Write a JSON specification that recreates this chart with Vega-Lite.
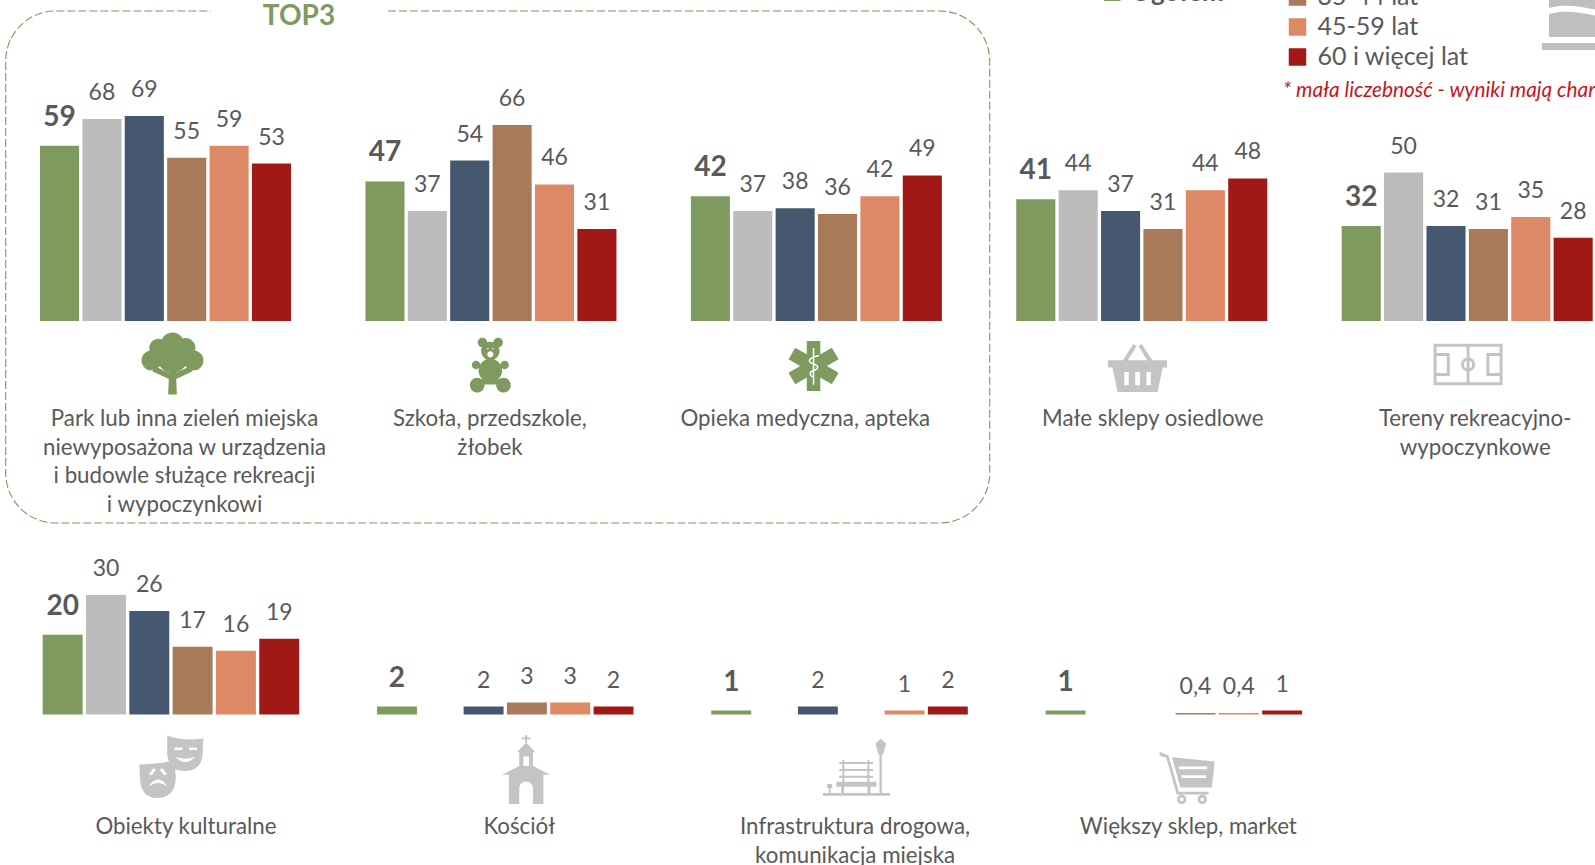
{
"$schema":"https://vega.github.io/schema/vega-lite/v6.json",
"width":1595,"height":865,"padding":0,"autosize":{"type":"none"},"background":"white",
"config":{"view":{"stroke":null},
"locale":{"number":{"decimal":",","thousands":" ","grouping":[3],"currency":["","zł"]}},
"text":{"font":"Lato","fill":"#595959","baseline":"alphabetic","align":"center"}},
"datasets":{
"r1":[
{"category":"Park","group":"Ogółem","value":59},{"category":"Park","group":"18-24 lat","value":68},{"category":"Park","group":"25-34 lat","value":69},{"category":"Park","group":"35-44 lat","value":55},{"category":"Park","group":"45-59 lat","value":59},{"category":"Park","group":"60 i więcej lat","value":53},
{"category":"Szkoła","group":"Ogółem","value":47},{"category":"Szkoła","group":"18-24 lat","value":37},{"category":"Szkoła","group":"25-34 lat","value":54},{"category":"Szkoła","group":"35-44 lat","value":66},{"category":"Szkoła","group":"45-59 lat","value":46},{"category":"Szkoła","group":"60 i więcej lat","value":31},
{"category":"Opieka","group":"Ogółem","value":42},{"category":"Opieka","group":"18-24 lat","value":37},{"category":"Opieka","group":"25-34 lat","value":38},{"category":"Opieka","group":"35-44 lat","value":36},{"category":"Opieka","group":"45-59 lat","value":42},{"category":"Opieka","group":"60 i więcej lat","value":49},
{"category":"Małe sklepy","group":"Ogółem","value":41},{"category":"Małe sklepy","group":"18-24 lat","value":44},{"category":"Małe sklepy","group":"25-34 lat","value":37},{"category":"Małe sklepy","group":"35-44 lat","value":31},{"category":"Małe sklepy","group":"45-59 lat","value":44},{"category":"Małe sklepy","group":"60 i więcej lat","value":48},
{"category":"Tereny","group":"Ogółem","value":32},{"category":"Tereny","group":"18-24 lat","value":50},{"category":"Tereny","group":"25-34 lat","value":32},{"category":"Tereny","group":"35-44 lat","value":31},{"category":"Tereny","group":"45-59 lat","value":35},{"category":"Tereny","group":"60 i więcej lat","value":28}],
"r2":[
{"category":"Obiekty","group":"Ogółem","value":20},{"category":"Obiekty","group":"18-24 lat","value":30},{"category":"Obiekty","group":"25-34 lat","value":26},{"category":"Obiekty","group":"35-44 lat","value":17},{"category":"Obiekty","group":"45-59 lat","value":16},{"category":"Obiekty","group":"60 i więcej lat","value":19},
{"category":"Kościół","group":"Ogółem","value":2},{"category":"Kościół","group":"25-34 lat","value":2},{"category":"Kościół","group":"35-44 lat","value":3},{"category":"Kościół","group":"45-59 lat","value":3},{"category":"Kościół","group":"60 i więcej lat","value":2},
{"category":"Infrastruktura","group":"Ogółem","value":1},{"category":"Infrastruktura","group":"25-34 lat","value":2},{"category":"Infrastruktura","group":"45-59 lat","value":1},{"category":"Infrastruktura","group":"60 i więcej lat","value":2},
{"category":"Większy sklep","group":"Ogółem","value":1},{"category":"Większy sklep","group":"35-44 lat","value":0.4},{"category":"Większy sklep","group":"45-59 lat","value":0.4},{"category":"Większy sklep","group":"60 i więcej lat","value":1}],
"c1":[
{"category":"Park","label":"Park lub inna zieleń miejska\nniewyposażona w urządzenia\ni budowle służące rekreacji\ni wypoczynkowi"},
{"category":"Szkoła","label":"Szkoła, przedszkole,\nżłobek"},
{"category":"Opieka","label":"Opieka medyczna, apteka"},
{"category":"Małe sklepy","label":"Małe sklepy osiedlowe"},
{"category":"Tereny","label":"Tereny rekreacyjno-\nwypoczynkowe"}],
"c2":[
{"category":"Obiekty","label":"Obiekty kulturalne"},
{"category":"Kościół","label":"Kościół"},
{"category":"Infrastruktura","label":"Infrastruktura drogowa,\nkomunikacja miejska"},
{"category":"Większy sklep","label":"Większy sklep, market"}],
"leg":[{"group":"Ogółem","column":"ogółem"},{"group":"35-44 lat","column":"wiek"},{"group":"45-59 lat","column":"wiek"},{"group":"60 i więcej lat","column":"wiek"}]
},
"layer":[
{"encoding":{"x":{"field":"category","type":"nominal","axis":null,"scale":{"type":"band","domain":["Park","Szkoła","Opieka","Małe sklepy","Tereny"],"range":[40,1592.7],"paddingInner":0.2286,"paddingOuter":0}}},
"layer":[
{"data":{"name":"r1"},"mark":{"type":"bar"},"encoding":{"y":{"field":"value","type":"quantitative","axis":null,"scale":{"domain":[0,100],"range":[321,24],"nice":false,"zero":false}},"xOffset":{"field":"group","type":"nominal","scale":{"domain":["Ogółem","18-24 lat","25-34 lat","35-44 lat","45-59 lat","60 i więcej lat"],"paddingInner":0.078,"paddingOuter":0}},"color":{"field":"group","type":"nominal","legend":null,"scale":{"domain":["Ogółem","18-24 lat","25-34 lat","35-44 lat","45-59 lat","60 i więcej lat"],"range":["#7f9a5e","#bcbcbc","#46586f","#a87a5a","#dd8966","#a01916"]}}}},
{"data":{"name":"r1"},"transform":[{"filter":"datum.group!=='Ogółem'"}],"mark":{"type":"text","fontSize":23,"dy":-19},"encoding":{"y":{"field":"value","type":"quantitative","axis":null},"xOffset":{"field":"group","type":"nominal"},"text":{"field":"value","type":"quantitative","format":".1~f"}}},
{"data":{"name":"r1"},"transform":[{"filter":"datum.group==='Ogółem'"}],"mark":{"type":"text","fontSize":28,"fontWeight":"bold","dy":-20},"encoding":{"y":{"field":"value","type":"quantitative","axis":null},"xOffset":{"field":"group","type":"nominal"},"text":{"field":"value","type":"quantitative","format":".1~f"}}},
{"data":{"name":"c1"},"transform":[{"filter":"datum.category==='Park'"}],"mark":{"type":"text","fontSize":22.3,"lineBreak":"\n","lineHeight":28.7,"dx":19,"dy":105},"encoding":{"y":{"datum":0,"type":"quantitative","axis":null},"text":{"field":"label"}}},
{"data":{"name":"c1"},"transform":[{"filter":"datum.category==='Szkoła'"}],"mark":{"type":"text","fontSize":22.3,"lineBreak":"\n","lineHeight":28.7,"dx":-1,"dy":105},"encoding":{"y":{"datum":0,"type":"quantitative","axis":null},"text":{"field":"label"}}},
{"data":{"name":"c1"},"transform":[{"filter":"datum.category==='Opieka'"}],"mark":{"type":"text","fontSize":22.3,"lineBreak":"\n","lineHeight":28.7,"dx":-11,"dy":105},"encoding":{"y":{"datum":0,"type":"quantitative","axis":null},"text":{"field":"label"}}},
{"data":{"name":"c1"},"transform":[{"filter":"datum.category==='Małe sklepy'"}],"mark":{"type":"text","fontSize":22.3,"lineBreak":"\n","lineHeight":28.7,"dx":11,"dy":105},"encoding":{"y":{"datum":0,"type":"quantitative","axis":null},"text":{"field":"label"}}},
{"data":{"name":"c1"},"transform":[{"filter":"datum.category==='Tereny'"}],"mark":{"type":"text","fontSize":22.3,"lineBreak":"\n","lineHeight":28.7,"dx":8,"dy":105},"encoding":{"y":{"datum":0,"type":"quantitative","axis":null},"text":{"field":"label"}}},
{"data":{"name":"c1"},"transform":[{"filter":"datum.category==='Park'"}],"mark":{"type":"point","filled":true,"opacity":1,"fill":"#7f9a5e","stroke":null,"size":3844,"xOffset":7,"shape":"M-.38 -.62 A.38 .38 0 1 1 .38 -.62 A.38 .38 0 1 1 -.38 -.62 Z M-.75 -.5 A.3 .3 0 1 1 -.15 -.5 A.3 .3 0 1 1 -.75 -.5 Z M.1 -.5 A.32 .32 0 1 1 .74 -.5 A.32 .32 0 1 1 .1 -.5 Z M-1 -.1 A.32 .32 0 1 1 -.36 -.1 A.32 .32 0 1 1 -1 -.1 Z M.36 -.1 A.32 .32 0 1 1 1 -.1 A.32 .32 0 1 1 .36 -.1 Z M-.5 -.2 A.5 .5 0 1 1 .5 -.2 A.5 .5 0 1 1 -.5 -.2 Z M-.14 1 L-.12 .5 L-.65 .25 L-.55 .1 L-.12 .3 L-.2 0 L.2 0 L.12 .3 L.55 .1 L.65 .25 L.12 .5 L.14 1 Z"},"encoding":{"y":{"datum":-14.31,"type":"quantitative","axis":null}}},
{"data":{"name":"c1"},"transform":[{"filter":"datum.category==='Szkoła'"}],"mark":{"type":"point","filled":true,"opacity":1,"fill":"#7f9a5e","stroke":null,"size":3136,"xOffset":-0.6,"shape":"M-.33 -.5 A.33 .33 0 1 1 .33 -.5 A.33 .33 0 1 1 -.33 -.5 Z M-.45 -.8 A.17 .17 0 1 1 -.11 -.8 A.17 .17 0 1 1 -.45 -.8 Z M.11 -.8 A.17 .17 0 1 1 .45 -.8 A.17 .17 0 1 1 .11 -.8 Z M-.42 .2 A.42 .42 0 1 1 .42 .2 A.42 .42 0 1 1 -.42 .2 Z M-.66 0 A.15 .15 0 1 1 -.36 0 A.15 .15 0 1 1 -.66 0 Z M.36 0 A.15 .15 0 1 1 .66 0 A.15 .15 0 1 1 .36 0 Z M-.73 .72 A.26 .26 0 1 1 -.21 .72 A.26 .26 0 1 1 -.73 .72 Z M.21 .72 A.26 .26 0 1 1 .73 .72 A.26 .26 0 1 1 .21 .72 Z M-.3 .3 L.3 .3 L.3 .7 L-.3 .7 Z M-.12 -.58 A.03 .03 0 1 0 -.06 -.58 A.03 .03 0 1 0 -.12 -.58 Z M.06 -.58 A.03 .03 0 1 0 .12 -.58 A.03 .03 0 1 0 .06 -.58 Z M-.11 -.38 A.11 .11 0 1 0 .11 -.38 A.11 .11 0 1 0 -.11 -.38 Z"},"encoding":{"y":{"datum":-14.81,"type":"quantitative","axis":null}}},
{"data":{"name":"c1"},"transform":[{"filter":"datum.category==='Opieka'"}],"mark":{"type":"point","filled":true,"opacity":1,"fill":"#7f9a5e","stroke":null,"size":2500,"xOffset":-2.8,"shape":"M-.27 -1 L.27 -1 L.27 1 L-.27 1 Z M.731 -.734 L1.001 -.266 L-.731 .734 L-1.001 .266 Z M1.001 .266 L.731 .734 L-1.001 -.266 L-.731 -.734 Z"},"encoding":{"y":{"datum":-15.15,"type":"quantitative","axis":null}}},
{"data":{"name":"c1"},"transform":[{"filter":"datum.category==='Opieka'"}],"mark":{"type":"point","filled":false,"opacity":1,"stroke":"white","strokeWidth":1.5,"size":2500,"xOffset":-2.8,"shape":"M0 -.72 L0 .75 M.22 -.42 C-.25 -.32 -.25 -.15 0 -.08 C.22 -.02 .22 .12 0 .18 C-.18 .24 -.18 .4 .02 .45"},"encoding":{"y":{"datum":-15.15,"type":"quantitative","axis":null}}},
{"data":{"name":"c1"},"transform":[{"filter":"datum.category==='Małe sklepy'"}],"mark":{"type":"point","filled":true,"opacity":1,"fill":"#c4c4c4","stroke":null,"size":3481,"xOffset":-4.2,"shape":"M-1 -.25 L1 -.25 L1 0 L-1 0 Z M-.5 -.25 L-.14 -.8 L-.03 -.72 L-.33 -.25 Z M.33 -.25 L.03 -.72 L.14 -.8 L.5 -.25 Z M-.85 0 L.85 0 L.68 .83 L-.68 .83 Z M-.45 .15 L-.45 .6 L-.3 .6 L-.3 .15 Z M-.08 .15 L-.08 .6 L.08 .6 L.08 .15 Z M.3 .15 L.3 .6 L.45 .6 L.45 .15 Z"},"encoding":{"y":{"datum":-15.66,"type":"quantitative","axis":null}}},
{"data":{"name":"c1"},"transform":[{"filter":"datum.category==='Tereny'"}],"mark":{"type":"point","filled":false,"opacity":1,"stroke":"#c4c4c4","strokeWidth":3,"size":4356,"xOffset":0.9,"shape":"M-1 -.58 L1 -.58 L1 .58 L-1 .58 Z M0 -.58 L0 .58 M-.17 0 A.17 .17 0 1 1 .17 0 A.17 .17 0 1 1 -.17 0 Z M-1 -.3 L-.6 -.3 L-.6 .3 L-1 .3 M1 -.3 L.6 -.3 L.6 .3 L1 .3"},"encoding":{"y":{"datum":-14.65,"type":"quantitative","axis":null}}},
{"data":{"name":"c1"},"transform":[{"filter":"datum.category==='Park'"}],"mark":{"type":"point","filled":false,"opacity":1,"stroke":"#7f9a5e","strokeWidth":1.1,"strokeDash":[8,3],"size":968256,"xOffset":332.2,"shape":"M-.223 -.5203 L.8984 -.5203 A.1016 .1016 0 0 1 1 -.4187 L1 .4187 A.1016 .1016 0 0 1 .8984 .5203 L-.8984 .5203 A.1016 .1016 0 0 1 -1 .4187 L-1 -.4187 A.1016 .1016 0 0 1 -.8984 -.5203 L-.5827 -.5203"},"encoding":{"y":{"datum":18.18,"type":"quantitative","axis":null}}},
{"data":{"values":[{"category":"Park","title":"TOP3"}]},"mark":{"type":"text","fontSize":28,"fontWeight":"bold","fill":"#7f9a5e","dx":133.5,"dy":-296},"encoding":{"y":{"datum":0,"type":"quantitative","axis":null},"text":{"field":"title"}}}
]},
{"encoding":{"x":{"field":"category","type":"nominal","axis":null,"scale":{"type":"band","domain":["Obiekty","Kościół","Infrastruktura","Większy sklep"],"range":[42.7,1302.1],"paddingInner":0.2327,"paddingOuter":0}}},
"layer":[
{"data":{"name":"r2"},"mark":{"type":"bar"},"encoding":{"y":{"field":"value","type":"quantitative","axis":null,"scale":{"domain":[0,30],"range":[714.5,595],"nice":false,"zero":false}},"xOffset":{"field":"group","type":"nominal","scale":{"domain":["Ogółem","18-24 lat","25-34 lat","35-44 lat","45-59 lat","60 i więcej lat"],"paddingInner":0.078,"paddingOuter":0}},"color":{"field":"group","type":"nominal","legend":null,"scale":{"domain":["Ogółem","18-24 lat","25-34 lat","35-44 lat","45-59 lat","60 i więcej lat"],"range":["#7f9a5e","#bcbcbc","#46586f","#a87a5a","#dd8966","#a01916"]}}}},
{"data":{"name":"r2"},"transform":[{"filter":"datum.group!=='Ogółem'"}],"mark":{"type":"text","fontSize":23,"dy":-19},"encoding":{"y":{"field":"value","type":"quantitative","axis":null},"xOffset":{"field":"group","type":"nominal"},"text":{"field":"value","type":"quantitative","format":".1~f"}}},
{"data":{"name":"r2"},"transform":[{"filter":"datum.group==='Ogółem'"}],"mark":{"type":"text","fontSize":28,"fontWeight":"bold","dy":-20},"encoding":{"y":{"field":"value","type":"quantitative","axis":null},"xOffset":{"field":"group","type":"nominal"},"text":{"field":"value","type":"quantitative","format":".1~f"}}},
{"data":{"name":"c2"},"transform":[{"filter":"datum.category==='Obiekty'"}],"mark":{"type":"text","fontSize":22.3,"lineBreak":"\n","lineHeight":28.7,"dx":15,"dy":119.5},"encoding":{"y":{"datum":0,"type":"quantitative","axis":null},"text":{"field":"label"}}},
{"data":{"name":"c2"},"transform":[{"filter":"datum.category==='Kościół'"}],"mark":{"type":"text","fontSize":22.3,"lineBreak":"\n","lineHeight":28.7,"dx":14,"dy":119.5},"encoding":{"y":{"datum":0,"type":"quantitative","axis":null},"text":{"field":"label"}}},
{"data":{"name":"c2"},"transform":[{"filter":"datum.category==='Infrastruktura'"}],"mark":{"type":"text","fontSize":22.3,"lineBreak":"\n","lineHeight":28.7,"dx":15.5,"dy":119.5},"encoding":{"y":{"datum":0,"type":"quantitative","axis":null},"text":{"field":"label"}}},
{"data":{"name":"c2"},"transform":[{"filter":"datum.category==='Większy sklep'"}],"mark":{"type":"text","fontSize":22.3,"lineBreak":"\n","lineHeight":28.7,"dx":14.5,"dy":119.5},"encoding":{"y":{"datum":0,"type":"quantitative","axis":null},"text":{"field":"label"}}},
{"data":{"name":"c2"},"transform":[{"filter":"datum.category==='Obiekty'"}],"mark":{"type":"point","filled":true,"opacity":1,"fill":"#c4c4c4","stroke":null,"size":4096,"xOffset":0.4,"shape":"M-.13 -.95 Q.45 -.75 1 -.87 L.97 -.3 Q.9 .16 .4 .16 Q-.1 .16 -.13 -.4 Z M.1 -.58 L.1 -.5 L.35 -.5 L.35 -.58 Z M.55 -.58 L.55 -.5 L.8 -.5 L.8 -.58 Z M.12 -.3 Q.45 .05 .75 -.3 Q.45 -.15 .12 -.3 Z M-1 -.05 Q-.4 -.05 .1 -.18 L.14 .4 Q.1 1 -.45 1 Q-.95 1 -.98 .4 Z M-.7 .25 L-.62 .3 L-.48 .12 L-.56 .07 Z M-.28 .07 L-.36 .12 L-.22 .3 L-.14 .25 Z M-.72 .65 Q-.4 .42 -.12 .65 Q-.4 .2 -.72 .65 Z"},"encoding":{"y":{"datum":-12.93,"type":"quantitative","axis":null}}},
{"data":{"name":"c2"},"transform":[{"filter":"datum.category==='Kościół'"}],"mark":{"type":"point","filled":true,"opacity":1,"fill":"#c4c4c4","stroke":null,"size":4761,"xOffset":20.9,"shape":"M-.03 -1 L.03 -1 L.03 -.78 L-.03 -.78 Z M-.13 -.93 L.13 -.93 L.13 -.88 L-.13 -.88 Z M-.27 -.5 L0 -.78 L.27 -.5 Z M-.2 -.5 L.2 -.5 L.2 .1 L-.2 .1 Z M-.08 -.38 L-.08 -.1 L.08 -.1 L.08 -.38 Z M-.7 .15 L-.2 -.1 L.2 -.1 L.7 .15 Z M-.5 .15 L.5 .15 L.5 1 L-.5 1 Z M-.2 1 L.2 1 L.2 .55 A.2 .2 0 0 0 -.2 .55 Z"},"encoding":{"y":{"datum":-13.81,"type":"quantitative","axis":null}}},
{"data":{"name":"c2"},"transform":[{"filter":"datum.category==='Infrastruktura'"}],"mark":{"type":"point","filled":true,"opacity":1,"fill":"#c4c4c4","stroke":null,"size":4489,"xOffset":16.8,"shape":"M-1 .77 L1 .77 L1 .85 L-1 .85 Z M.69 -.4 L.76 -.4 L.76 .8 L.69 .8 Z M.57 -.7 L.73 -.85 L.89 -.7 L.8 -.38 L.66 -.38 Z M-.6 .43 L.6 .43 L.6 .58 L-.6 .58 Z M-.51 -.16 L.5 -.16 L.5 -.1 L-.51 -.1 Z M-.51 .05 L.5 .05 L.5 .11 L-.51 .11 Z M-.51 .25 L.5 .25 L.5 .31 L-.51 .31 Z M-.42 -.22 L-.36 -.22 L-.36 .43 L-.42 .43 Z M.33 -.22 L.39 -.22 L.39 .43 L.33 .43 Z M-.45 .58 L-.37 .58 L-.37 .8 L-.45 .8 Z M.33 .58 L.42 .58 L.42 .8 L.33 .8 Z M-.87 .5 L-.72 .5 L-.72 .62 L-.77 .62 L-.77 .8 L-.82 .8 L-.82 .62 L-.87 .62 Z"},"encoding":{"y":{"datum":-13.26,"type":"quantitative","axis":null}}},
{"data":{"name":"c2"},"transform":[{"filter":"datum.category==='Większy sklep'"}],"mark":{"type":"point","filled":true,"opacity":1,"fill":"#c4c4c4","stroke":null,"size":3025,"xOffset":13.3,"shape":"M-1 -.95 L-.68 -.82 L-.3 .5 L.78 .5 L.78 .6 L-.38 .6 L-.76 -.74 L-1 -.82 Z M-.55 -.75 L1 -.6 L.9 .35 L-.25 .35 Z M-.3 -.42 L-.28 -.32 L.72 -.32 L.74 -.42 Z M-.22 -.1 L-.2 0 L.68 0 L.7 -.1 Z M-.37 .78 A.17 .17 0 1 1 -.03 .78 A.17 .17 0 1 1 -.37 .78 Z M-.27 .78 A.07 .07 0 1 0 -.13 .78 A.07 .07 0 1 0 -.27 .78 Z M.38 .78 A.17 .17 0 1 1 .72 .78 A.17 .17 0 1 1 .38 .78 Z M.48 .78 A.07 .07 0 1 0 .62 .78 A.07 .07 0 1 0 .48 .78 Z"},"encoding":{"y":{"datum":-15.94,"type":"quantitative","axis":null}}}
]},
{"data":{"name":"leg"},"encoding":{"x":{"field":"column","type":"nominal","axis":null,"scale":{"type":"point","domain":["ogółem","wiek"],"range":[1112.3,1297.5],"padding":0}},
"y":{"field":"group","type":"nominal","axis":null,"scale":{"type":"point","domain":["Ogółem","35-44 lat","45-59 lat","60 i więcej lat"],"range":[-33,57],"padding":0}}},
"layer":[
{"transform":[{"filter":"datum.group!=='Ogółem'"}],"mark":{"type":"point","shape":"square","filled":true,"opacity":1,"size":306},"encoding":{"color":{"field":"group","type":"nominal","legend":null,"scale":{"domain":["Ogółem","18-24 lat","25-34 lat","35-44 lat","45-59 lat","60 i więcej lat"],"range":["#7f9a5e","#bcbcbc","#46586f","#a87a5a","#dd8966","#a01916"]}}}},
{"transform":[{"filter":"datum.group!=='Ogółem'"}],"mark":{"type":"text","fontSize":25,"align":"left","dx":20,"dy":8},"encoding":{"text":{"field":"group"}}},
{"transform":[{"filter":"datum.group==='Ogółem'"}],"mark":{"type":"point","shape":"square","filled":true,"opacity":1,"size":272,"yOffset":25.7},"encoding":{"color":{"field":"group","type":"nominal","legend":null}}},
{"transform":[{"filter":"datum.group==='Ogółem'"}],"mark":{"type":"text","fontSize":26,"fontWeight":"bold","align":"left","dx":18,"dy":34},"encoding":{"text":{"field":"group"}}},
{"transform":[{"filter":"datum.group==='60 i więcej lat'"}],"mark":{"type":"point","filled":true,"opacity":1,"fill":"#bfbfbf","stroke":null,"size":6400,"xOffset":284.5,"yOffset":-47,"shape":"M-.825 -1 L1 -1 L1 0 C.5 .15 -.1 -.25 -.825 -.05 Z M-.825 .1 C-.1 -.1 .5 .3 1 .15 L1 .675 L-.825 .675 Z M-1 .825 L1 .825 L1 1 L-1 1 Z"}},
{"data":{"values":[{"group":"60 i więcej lat","column":"wiek","note":"* mała liczebność - wyniki mają char"}]},"mark":{"type":"text","font":"Lato","fontSize":20.8,"fontStyle":"italic","fill":"#c5161d","align":"left","dx":-14.5,"dy":39.7},"encoding":{"text":{"field":"note"}}}
]}
],
"resolve":{"scale":{"x":"independent","y":"independent","xOffset":"independent"}}
}
